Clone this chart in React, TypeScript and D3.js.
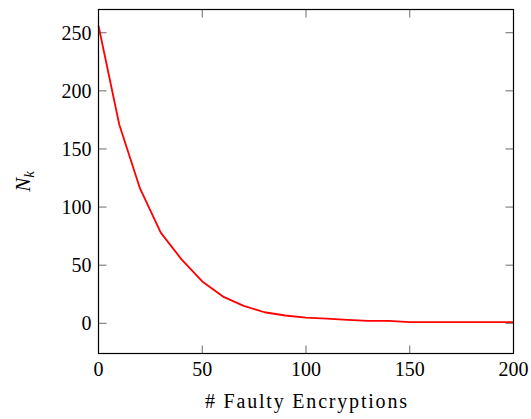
import * as d3 from 'd3';
import React, { useEffect, useRef } from 'react';

// faults vs remaining key candidates
const faults = [0, 10, 20, 30, 40, 50, 60, 70, 80, 90, 100, 110, 120, 130, 140, 150, 160, 170, 180, 190, 200];
const nk = [256, 171, 116, 78, 55, 36, 23, 15, 9.5, 6.7, 4.8, 4, 3, 2, 2, 1, 1, 1, 1, 1, 1];
const xTicks = [0, 50, 100, 150, 200];
const yTicks = [0, 50, 100, 150, 200, 250];

const W = 531, H = 419;
const font = '"Liberation Serif", serif';

export default function App() {
    const ref = useRef<SVGSVGElement>(null);

    useEffect(() => {
        const svg = d3.select(ref.current);
        svg.selectAll('*').remove();

        const left = 98.5, right = 513.5, top = 9.5, bottom = 353.5;
        const x = d3.scaleLinear().domain([0, 200]).range([left, right]);
        const y = d3.scaleLinear().domain([-26, 270]).range([bottom, top]);

        const g = svg.append('g');

        // ticks, inward on all sides
        const tk = 8;
        xTicks.forEach(t => {
            g.append('line').attr('x1', x(t)).attr('x2', x(t)).attr('y1', bottom).attr('y2', bottom - tk)
                .attr('stroke', '#444').attr('stroke-width', 0.8);
            g.append('line').attr('x1', x(t)).attr('x2', x(t)).attr('y1', top).attr('y2', top + tk)
                .attr('stroke', '#444').attr('stroke-width', 0.8);
            g.append('text').attr('x', x(t)).attr('y', bottom + 22)
                .attr('text-anchor', 'middle').style('font-family', font).style('font-size', '20px')
                .text(t);
        });
        yTicks.forEach(t => {
            g.append('line').attr('x1', left).attr('x2', left + tk).attr('y1', y(t)).attr('y2', y(t))
                .attr('stroke', '#444').attr('stroke-width', 0.8);
            g.append('line').attr('x1', right).attr('x2', right - tk).attr('y1', y(t)).attr('y2', y(t))
                .attr('stroke', '#444').attr('stroke-width', 0.8);
            g.append('text').attr('x', left - 7).attr('y', y(t)).attr('dy', '0.35em')
                .attr('text-anchor', 'end').style('font-family', font).style('font-size', '20px')
                .text(t);
        });

        const line = d3.line<number>()
            .x((d, i) => x(faults[i]))
            .y(d => y(d));

        g.append('path')
            .datum(nk)
            .attr('d', line)
            .attr('fill', 'none')
            .attr('stroke', '#ff0000')
            .attr('stroke-width', 1.8)
            .attr('stroke-linejoin', 'round');

        g.append('rect')
            .attr('x', left).attr('y', top)
            .attr('width', right - left).attr('height', bottom - top)
            .attr('fill', 'none').attr('stroke', '#000').attr('stroke-width', 1.2);

        g.append('text')
            .attr('x', (left + right) / 2).attr('y', 408)
            .attr('text-anchor', 'middle').style('font-family', font).style('font-size', '20px')
            .attr('textLength', 202).attr('lengthAdjust', 'spacing')
            .text('# Faulty Encryptions');

        const yl = g.append('text')
            .attr('transform', `translate(30, ${(top + bottom) / 2}) rotate(-90)`)
            .attr('text-anchor', 'middle').style('font-family', font).style('font-size', '21px')
            .style('font-style', 'italic');
        yl.append('tspan').text('N');
        yl.append('tspan').attr('dy', 4).style('font-size', '15px').text('k');
    }, []);

    return (
        <svg ref={ref} width={W} height={H}
            style={{ position: 'absolute', left: 0, top: 0, background: '#fff' }}></svg>
    );
}
